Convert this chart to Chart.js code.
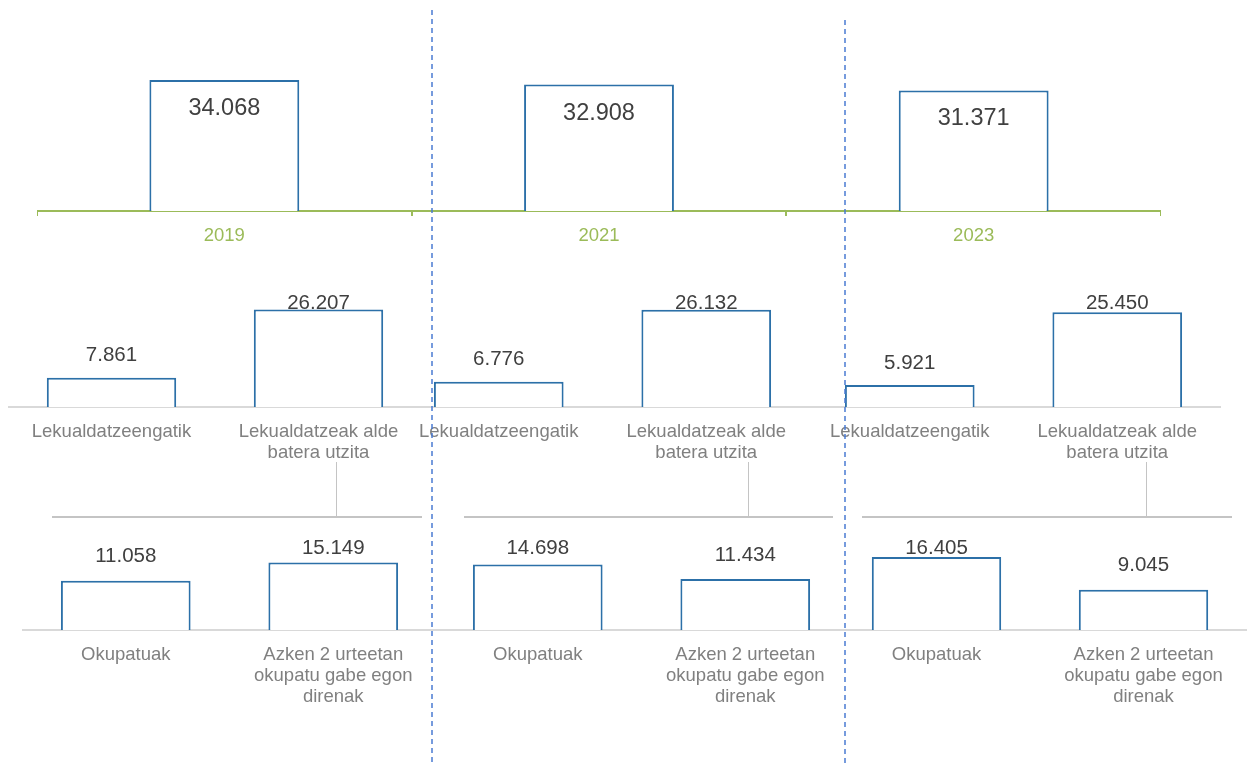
<!DOCTYPE html>
<html>
<head>
<meta charset="utf-8">
<script src="https://cdn.jsdelivr.net/npm/chart.js@4/dist/chart.umd.min.js"></script>
<style>
  html, body { margin: 0; padding: 0; background: #ffffff; }
  #wrap { position: relative; width: 1251px; height: 764px; overflow: hidden; background: #ffffff; }
  #wrap canvas { position: absolute; }
  .ln { position: absolute; background: #c4c4c4; }
  #dash { position: absolute; left: 0; top: 0; z-index: 5; }
</style>
</head>
<body>
<div id="wrap">
  <canvas id="cTop" width="1124" height="251" style="left:37px;top:20px"></canvas>
  <canvas id="cM1" width="414" height="195" style="left:8px;top:292px"></canvas>
  <canvas id="cM2" width="415" height="195" style="left:395px;top:292px"></canvas>
  <canvas id="cM3" width="415" height="195" style="left:806px;top:292px"></canvas>
  <canvas id="cB1" width="415" height="173" style="left:22px;top:537px"></canvas>
  <canvas id="cB2" width="415" height="173" style="left:434px;top:537px"></canvas>
  <canvas id="cB3" width="414" height="173" style="left:833px;top:537px"></canvas>

  <div class="ln" style="left:336px;top:462px;width:1px;height:55px"></div>
  <div class="ln" style="left:52px;top:516px;width:370px;height:1.5px"></div>
  <div class="ln" style="left:748px;top:462px;width:1px;height:55px"></div>
  <div class="ln" style="left:464px;top:516px;width:369px;height:1.5px"></div>
  <div class="ln" style="left:1146px;top:462px;width:1px;height:55px"></div>
  <div class="ln" style="left:862px;top:516px;width:370px;height:1.5px"></div>

  <svg id="dash" width="1251" height="764">
    <line x1="432" y1="10" x2="432" y2="764" stroke="#4a7bd2" stroke-width="1.5" stroke-dasharray="5 4"/>
    <line x1="845" y1="20" x2="845" y2="764" stroke="#4a7bd2" stroke-width="1.5" stroke-dasharray="5 4"/>
  </svg>
</div>
<script>
// ---- data ----
const years = ['2019', '2021', '2023'];
const totals = [34068, 32908, 31371];

const relocationLabels = [['Lekualdatzeengatik'], ['Lekualdatzeak alde', 'batera utzita']];
const dueToRelocation = [7861, 6776, 5921];
const apartFromRelocation = [26207, 26132, 25450];

const statusLabels = [['Okupatuak'], ['Azken 2 urteetan', 'okupatu gabe egon', 'direnak']];
const employed = [11058, 14698, 16405];
const notEmployed2y = [15149, 11434, 9045];

// ---- helpers ----
const fmt = v => String(v).replace(/\B(?=(\d{3})+(?!\d))/g, '.');
const FONT = "'Liberation Sans', Arial, sans-serif";
const BAR_BORDER = '#2c70a8';

const valueLabels = {
  id: 'valueLabels',
  afterDatasetsDraw(chart, args, opts) {
    const { ctx, chartArea } = chart;
    const meta = chart.getDatasetMeta(0);
    const data = chart.data.datasets[0].data;
    ctx.save();
    ctx.font = opts.size + 'px ' + FONT;
    ctx.fillStyle = '#404040';
    ctx.textAlign = 'center';
    ctx.textBaseline = 'middle';
    meta.data.forEach((bar, i) => {
      let y;
      if (opts.inside) y = bar.y + opts.offset;
      else y = Math.max(bar.y - opts.offset, chartArea.top + opts.minTop);
      ctx.fillText(fmt(data[i]), bar.x, y);
    });
    ctx.restore();
  }
};

function makeChart(id, labels, values, cfg) {
  return new Chart(document.getElementById(id), {
    type: 'bar',
    data: {
      labels: labels,
      datasets: [{
        data: values,
        backgroundColor: '#ffffff',
        borderColor: BAR_BORDER,
        borderWidth: 2,
        borderSkipped: 'start',
        barPercentage: cfg.barPct,
        categoryPercentage: 1.0
      }]
    },
    options: {
      responsive: false,
      animation: false,
      devicePixelRatio: 1,
      layout: { padding: 0 },
      plugins: {
        legend: { display: false },
        tooltip: { enabled: false },
        valueLabels: cfg.labelOpts
      },
      scales: {
        y: { display: false, min: 0, max: cfg.yMax },
        x: {
          afterFit: s => { s.height = cfg.axisH; },
          border: { display: true, color: cfg.axisColor, width: cfg.axisWidth },
          grid: {
            display: true,
            offset: true,
            drawOnChartArea: false,
            drawTicks: cfg.ticks,
            tickLength: 5,
            color: cfg.ticks ? cfg.axisColor : 'rgba(0,0,0,0)',
            lineWidth: 2
          },
          ticks: {
            autoSkip: false,
            maxRotation: 0,
            padding: cfg.pad,
            color: cfg.labelColor,
            font: { family: FONT, size: 18.5, lineHeight: 1.12 }
          }
        }
      }
    },
    plugins: [valueLabels]
  });
}

// top row: totals per year
makeChart('cTop', years, totals, {
  barPct: 0.4, yMax: 49700, axisH: 60, axisColor: '#9bbb59', axisWidth: 2,
  ticks: true, pad: 10, labelColor: '#9bbb59',
  labelOpts: { size: 23.5, inside: true, offset: 28.5, minTop: 0 }
});

// middle row: relocation split
const midCfg = {
  barPct: 0.625, yMax: 30900, axisH: 80, axisColor: '#d9d9d9', axisWidth: 2,
  ticks: false, pad: 15, labelColor: '#808080',
  labelOpts: { size: 20.5, inside: false, offset: 22, minTop: 11 }
};
makeChart('cM1', relocationLabels, [dueToRelocation[0], apartFromRelocation[0]], midCfg);
makeChart('cM2', relocationLabels, [dueToRelocation[1], apartFromRelocation[1]], midCfg);
makeChart('cM3', relocationLabels, [dueToRelocation[2], apartFromRelocation[2]], midCfg);

// bottom row: employment status
const botCfg = {
  barPct: 0.625, yMax: 20900, axisH: 80, axisColor: '#d9d9d9', axisWidth: 2,
  ticks: false, pad: 15, labelColor: '#808080',
  labelOpts: { size: 20.5, inside: false, offset: 24, minTop: 11 }
};
makeChart('cB1', statusLabels, [employed[0], notEmployed2y[0]], botCfg);
makeChart('cB2', statusLabels, [employed[1], notEmployed2y[1]], botCfg);
makeChart('cB3', statusLabels, [employed[2], notEmployed2y[2]], botCfg);
</script>
</body>
</html>
